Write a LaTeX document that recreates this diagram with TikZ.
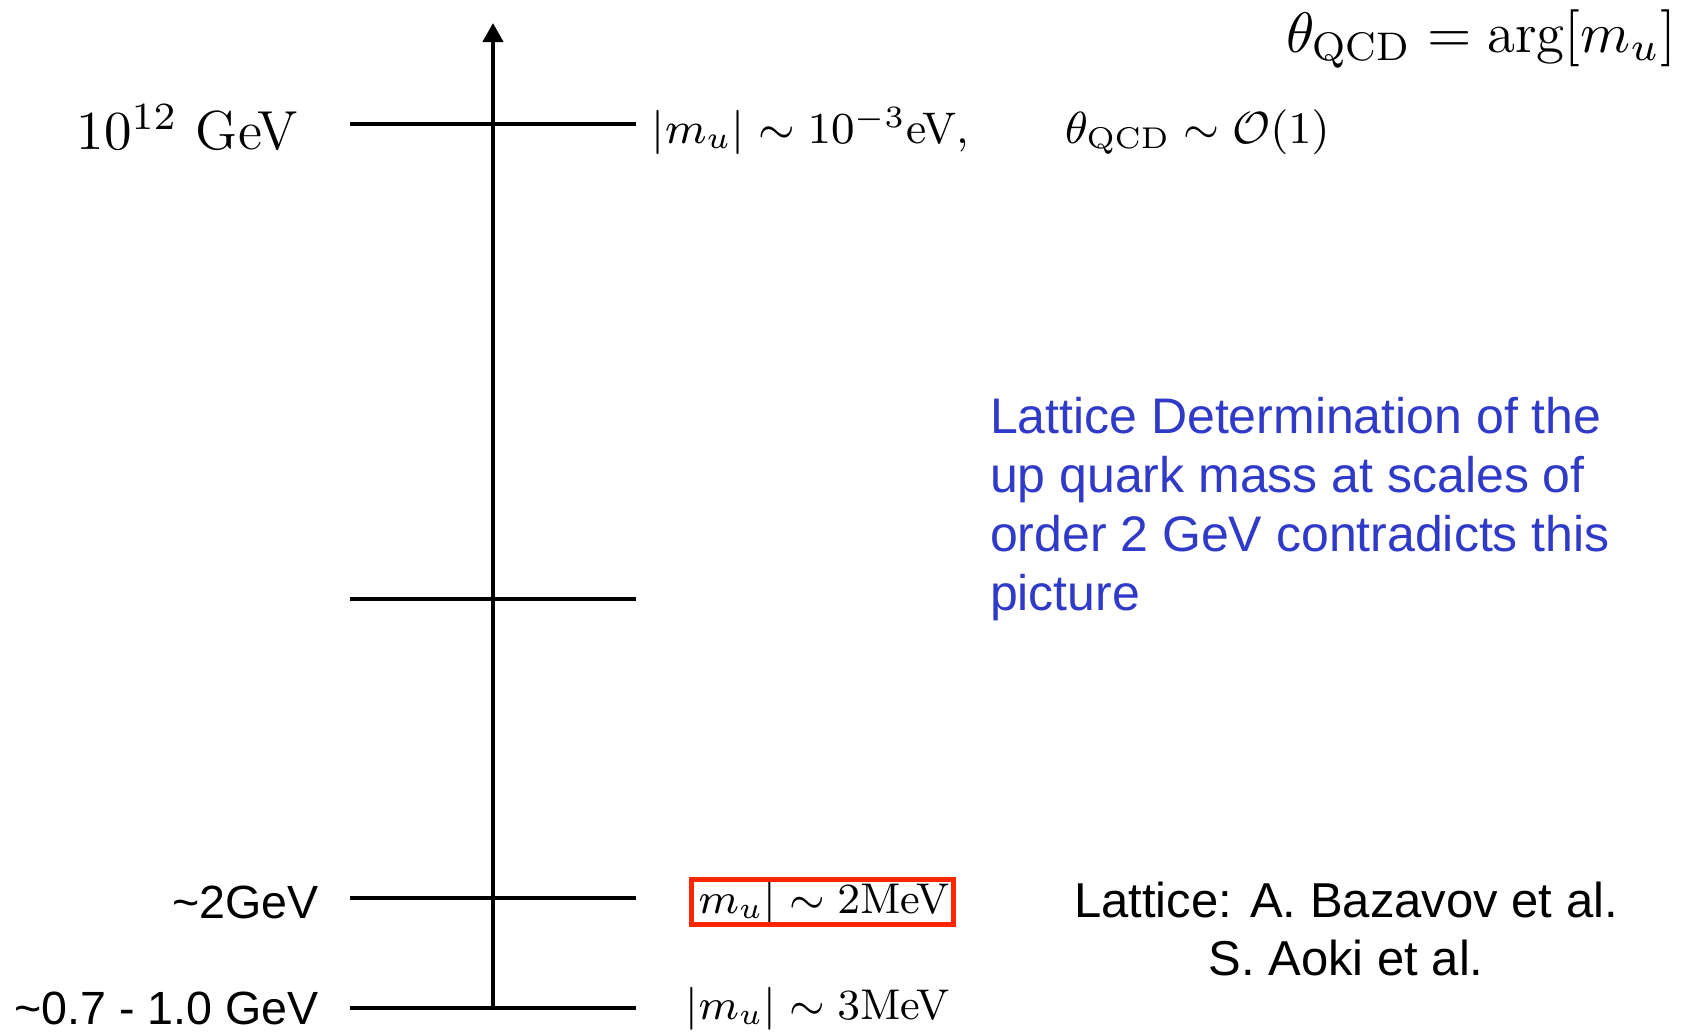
\RequirePackage{fix-cm}
\documentclass[tikz,border=0pt]{standalone}
\usepackage{fontspec}
\usepackage{amssymb}
\usetikzlibrary{arrows.meta, positioning, calc}
\newfontfamily\helv{Liberation Sans}
\definecolor{keyred}{RGB}{255, 38, 0}
\definecolor{latblue}{RGB}{48, 58, 200}

\tikzset{
  levelline/.style={line width=0.95pt},
  masslbl/.style={inner sep=0pt, anchor=base west, font=\fontsize{8.95}{11}\selectfont},
  scalelbl/.style={inner sep=0pt, anchor=base east, font=\helv\fontsize{9.32}{11}\selectfont},
}

\begin{document}
\begin{tikzpicture}[x=0.2pt, y=-0.2pt]
  \useasboundingbox (0,0) rectangle (1685,1031);
  \coordinate (axbot) at (493,1008);
  \coordinate (axtop) at (493,23);
  \draw[line width=0.85pt, -{Triangle[length=3.8pt,width=4pt]}] (axbot) -- (axtop);
  \foreach \lvl/\y in {lvlhi/124, lvlmid/599, lvltwo/898, lvlqcd/1008} {
    \coordinate (\lvl-l) at (350,\y);
    \coordinate (\lvl-r) at (636,\y);
    \draw[levelline] (\lvl-l) -- (\lvl-r);
  }

  \node[scalelbl, font=\fontsize{11}{13}\selectfont] (hiscale) at (299,149) {$10^{12}$ GeV};
  \node[scalelbl] (twoscale) at (320,918) {\textasciitilde 2GeV};
  \node[scalelbl] (qcdscale) at (320,1024) {\textasciitilde 0.7 - 1.0 GeV};

  \node[masslbl, font=\fontsize{8.85}{11}\selectfont] (himass) at (651,143) {$|m_u| \sim 10^{-3}$eV,};
  \node[masslbl, font=\fontsize{9}{11}\selectfont] (hitheta) at (1064,143) {$\theta_{\mathrm{QCD}} \sim \mathcal{O}(1)$};
  \node[masslbl, font=\fontsize{8.6}{11}\selectfont] (twomass) at (685,913) {$|m_u| \sim 2$MeV};
  \draw[keyred, line width=1pt] ([xshift=1.2pt]twomass.south west) rectangle ([xshift=0.6pt]twomass.north east);
  \node[masslbl, font=\fontsize{8.6}{11}\selectfont] (qcdmass) at (685,1019) {$|m_u| \sim 3$MeV};

  \node[inner sep=0pt, anchor=base east, font=\fontsize{11.4}{13}\selectfont] (thetadef) at (1677,52)
    {$\theta_{\mathrm{QCD}} = \arg[m_u]$};

  \node[inner sep=0pt, anchor=north west, align=left, text=latblue,
        font=\helv\fontsize{10}{11.8}\selectfont] (latnote) at (989,396)
    {Lattice Determination of the\\up quark mass at scales of\\order 2 GeV contradicts this\\picture};
  \node[inner sep=0pt, anchor=north, align=center,
        font=\helv\fontsize{9.8}{11.6}\selectfont] (latref) at (1346,881)
    {Lattice: A. Bazavov et al.\\S. Aoki et al.};
\end{tikzpicture}
\end{document}
